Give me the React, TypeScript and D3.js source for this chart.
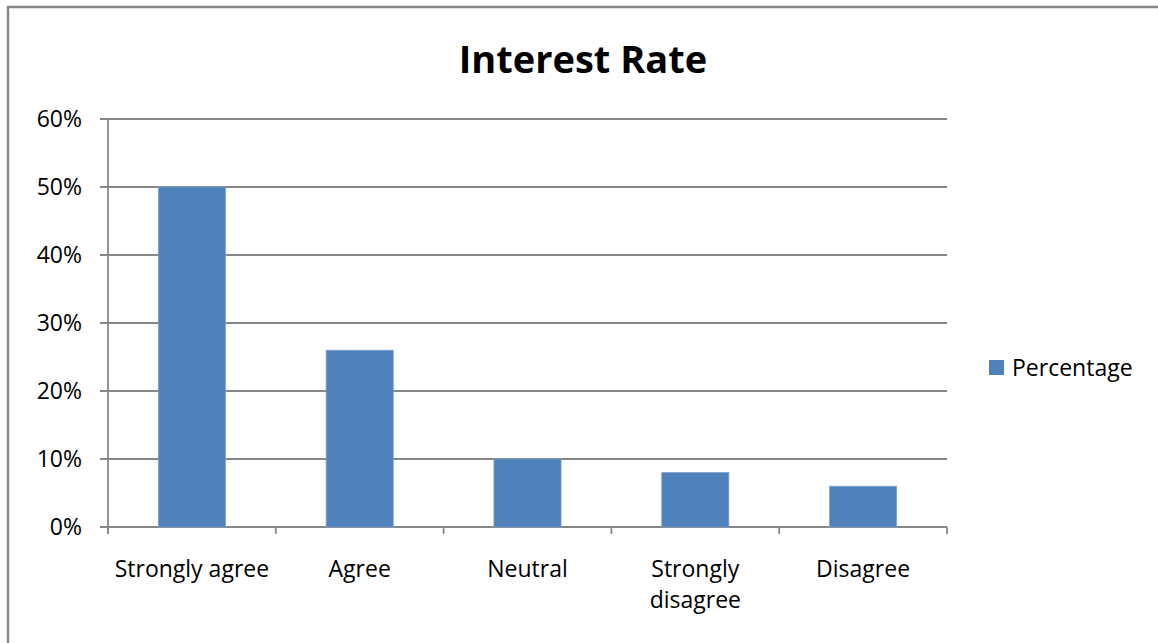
import { useEffect, useRef } from 'react'
import * as d3 from 'd3'

const categories = ['Strongly agree', 'Agree', 'Neutral', 'Strongly disagree', 'Disagree']
const percentages = [0.5, 0.26, 0.1, 0.08, 0.06]
const yTicks = [0, 0.1, 0.2, 0.3, 0.4, 0.5, 0.6]
const seriesName = 'Percentage'
const chartTitle = 'Interest Rate'

const width = 1158
const height = 643
const font = '"Open Sans", sans-serif'

export default function App() {
  const svgRef = useRef<SVGSVGElement>(null)

  useEffect(() => {
    if (!svgRef.current) return
    const svg = d3.select(svgRef.current)
    svg.selectAll('*').remove()

    const left = 108
    const right = 947
    const top = 119
    const bottom = 527
    const gridColor = '#878787'
    const barColor = '#4f81bd'

    // outer frame (only left and top edges are visible in the crop)
    svg.append('rect')
      .attr('x', 8).attr('y', 7)
      .attr('width', width + 20).attr('height', height + 20)
      .attr('fill', '#fff')
      .attr('stroke', '#878787')
      .attr('stroke-width', 2.5)

    const x = d3.scaleBand()
      .domain(categories)
      .range([left, right])
      .paddingInner(0)

    const y = d3.scaleLinear()
      .domain([0, 0.6])
      .range([bottom, top])

    // gridlines
    svg.append('g')
      .selectAll('line')
      .data(yTicks)
      .enter().append('line')
      .attr('x1', left - 8)
      .attr('x2', right)
      .attr('y1', d => y(d))
      .attr('y2', d => y(d))
      .attr('stroke', gridColor)
      .attr('stroke-width', 1.8)

    // y axis line
    svg.append('line')
      .attr('x1', left).attr('x2', left)
      .attr('y1', top).attr('y2', bottom + 7)
      .attr('stroke', gridColor)
      .attr('stroke-width', 1.8)

    // x axis ticks between categories
    const boundaries = [...categories.map(c => x(c) || 0), right]
    svg.append('g')
      .selectAll('line')
      .data(boundaries)
      .enter().append('line')
      .attr('x1', d => d).attr('x2', d => d)
      .attr('y1', bottom).attr('y2', bottom + 7)
      .attr('stroke', gridColor)
      .attr('stroke-width', 1.8)

    // y tick labels
    svg.append('g')
      .selectAll('text')
      .data(yTicks)
      .enter().append('text')
      .attr('x', 82)
      .attr('y', d => y(d))
      .attr('dy', '0.35em')
      .attr('text-anchor', 'end')
      .style('font-family', font)
      .style('font-size', '23px')
      .attr('fill', '#000')
      .text(d => d3.format('.0%')(d))

    // bars
    const barW = x.bandwidth() / 2.5
    svg.append('g')
      .selectAll('rect')
      .data(percentages)
      .enter().append('rect')
      .attr('x', (d, i) => (x(categories[i]) || 0) + (x.bandwidth() - barW) / 2)
      .attr('y', d => y(d))
      .attr('width', barW)
      .attr('height', d => y(0) - y(d))
      .attr('fill', barColor)
      .attr('stroke', '#7fa1cc')
      .attr('stroke-width', 0.8)

    // category labels, wrapped when long
    const labels = svg.append('g')
      .selectAll('text')
      .data(categories)
      .enter().append('text')
      .attr('x', d => (x(d) || 0) + x.bandwidth() / 2)
      .attr('y', 577)
      .attr('text-anchor', 'middle')
      .style('font-family', font)
      .style('font-size', '23px')
      .attr('fill', '#000')

    labels.each(function (d) {
      const lines = d.length > 15 ? d.split(' ') : [d]
      const t = d3.select(this)
      lines.forEach((ln, i) => {
        t.append('tspan')
          .attr('x', (x(d) || 0) + x.bandwidth() / 2)
          .attr('dy', i === 0 ? 0 : 31)
          .text(ln)
      })
    })

    // title
    svg.append('text')
      .attr('x', 583)
      .attr('y', 73)
      .attr('text-anchor', 'middle')
      .style('font-family', font)
      .style('font-size', '38px')
      .style('font-weight', 'bold')
      .attr('fill', '#000')
      .text(chartTitle)

    // legend
    svg.append('rect')
      .attr('x', 989).attr('y', 360)
      .attr('width', 15).attr('height', 15)
      .attr('fill', barColor)
    svg.append('text')
      .attr('x', 1012)
      .attr('y', 376)
      .style('font-family', font)
      .style('font-size', '23px')
      .attr('fill', '#000')
      .text(seriesName)
  }, [])

  return (
    <svg
      ref={svgRef}
      width={width}
      height={height}
      style={{ position: 'absolute', left: 0, top: 0, background: '#fff' }}
    />
  )
}
